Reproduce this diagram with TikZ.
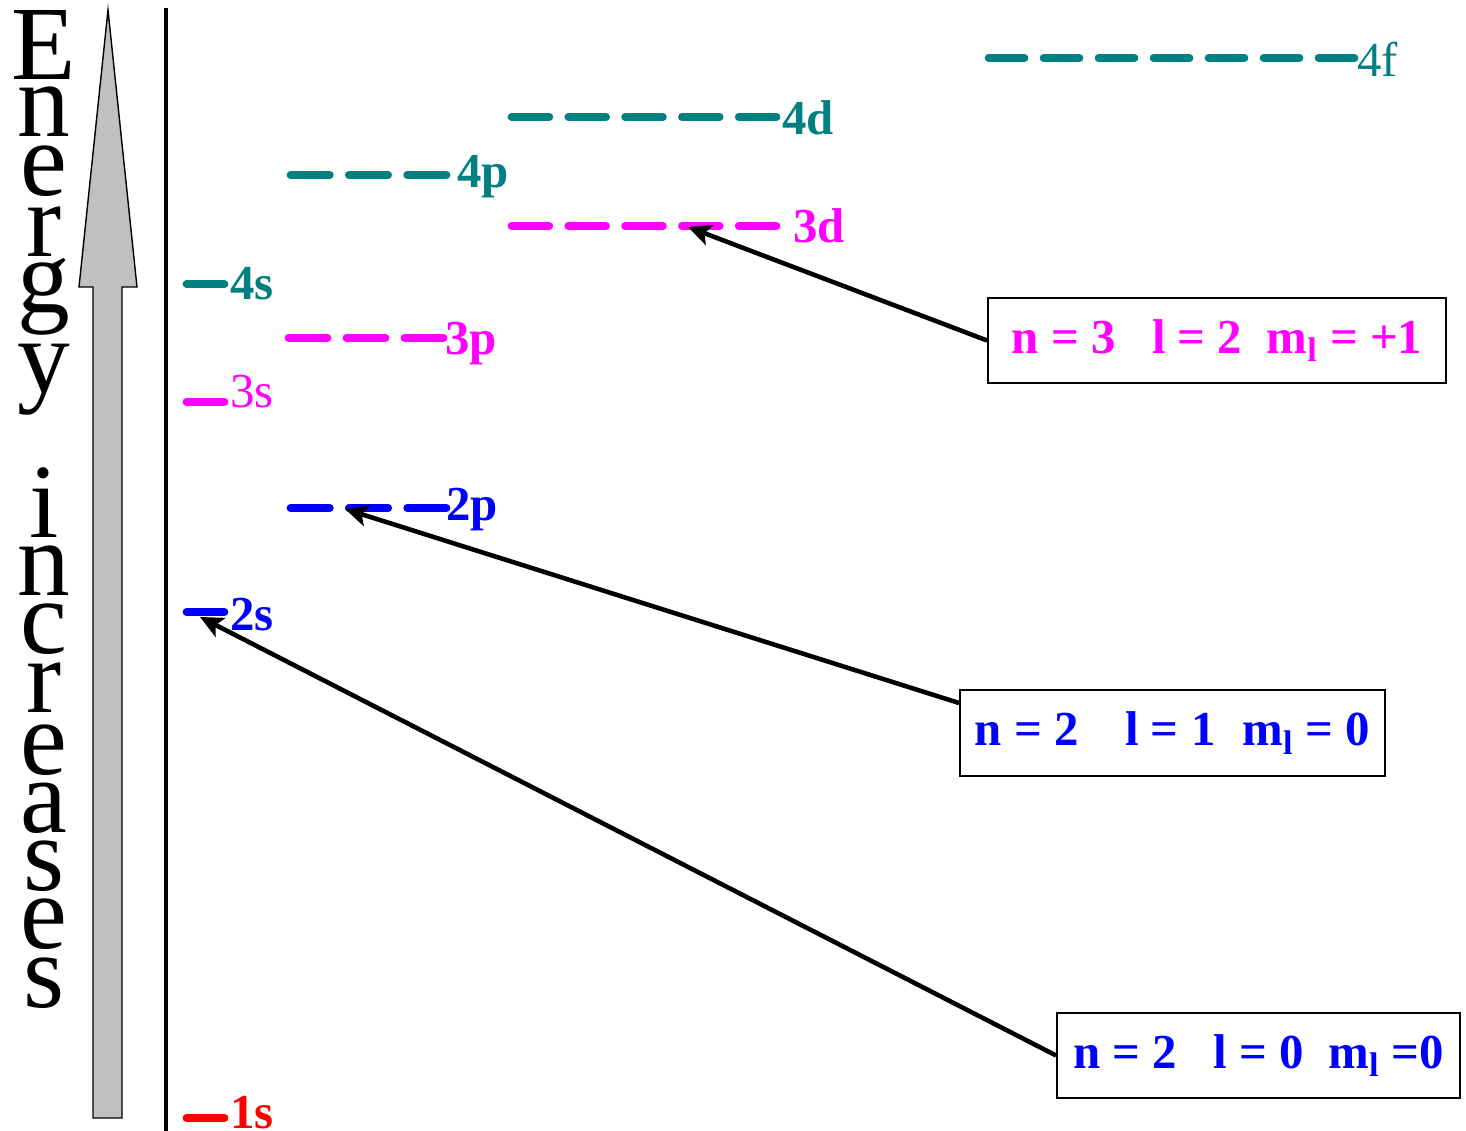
\documentclass[tikz,border=0pt]{standalone}
\usepackage{fontspec}
\setmainfont{Liberation Serif}
\usetikzlibrary{arrows.meta}
\definecolor{arrowgray}{RGB}{192,192,192}
\definecolor{orbteal}{RGB}{0,128,128}
\definecolor{orbmagenta}{RGB}{255,0,255}
\definecolor{orbblue}{RGB}{0,0,255}
\definecolor{orbred}{RGB}{255,0,0}
\tikzstyle{level} = [line width=4.4pt, line cap=round]
\tikzstyle{lbl} = [inner sep=0pt, anchor=base west, font=\fontsize{27.8pt}{30pt}\selectfont\bfseries]
\tikzstyle{qbox} = [rectangle, draw=black, line width=1.1pt, text centered, align=center, font=\fontsize{27.8pt}{30pt}\selectfont\bfseries]
\tikzset{qarrow/.style={line width=2.6pt, -{Stealth[length=13pt, width=12pt, inset=3pt]}}}
% one level: colour, x start, x end, y, number of orbitals
\newcommand{\drawLevel}[5]
{
    \pgfmathsetmacro{\seg}{(#3-#2-(#5-1)*12)/#5}
    \foreach \k in {1,...,#5}
        \draw [level, #1] ({#2+(\k-1)*(\seg+12)+3.5},#4) -- ++({\seg-7},0);
}

\begin{document}
\begin{tikzpicture}[x=0.02cm, y=-0.02cm]
\useasboundingbox (0,0) rectangle (1466,1131);

% energy axis
\draw [black, fill=arrowgray, line width=0.8pt] (93,1118) -- (93,287) -- (79,287) -- (108,10) -- (137,287) -- (122,287) -- (122,1118) -- cycle;
\draw [black, line width=2.3pt] (166,8) -- (166,1131);
\foreach \ch/\yy [count=\i] in {E/80, n/137, e/196, r/257, g/313, y/393, i/537, n/595, c/653, r/712, e/774, a/832, s/890, e/948, s/1007}
    \node (ltr\i) [inner sep=0pt, anchor=base, font=\fontsize{60pt}{60pt}\selectfont] at (44,\yy) {\ch};

% levels
\drawLevel{orbred}{183}{228}{1118}{1}
\drawLevel{orbblue}{183}{228}{612}{1}
\drawLevel{orbmagenta}{183}{228}{402}{1}
\drawLevel{orbteal}{183}{228}{284}{1}
\drawLevel{orbblue}{287}{450}{508}{3}
\drawLevel{orbmagenta}{285}{447}{338}{3}
\drawLevel{orbteal}{287}{450}{175}{3}
\drawLevel{orbmagenta}{508}{780}{226}{5}
\drawLevel{orbteal}{508}{780}{117}{5}
\drawLevel{orbteal}{985}{1358}{58}{7}

\node (l1s) [lbl, orbred] at (230,1128) {1s};
\node (l2s) [lbl, orbblue] at (230,630) {2s};
\node (l3s) [lbl, orbmagenta, font=\fontsize{27.8pt}{30pt}\selectfont] at (230,408) {3s};
\node (l4s) [lbl, orbteal] at (230,300) {4s};
\node (l2p) [lbl, orbblue] at (446,520) {2p};
\node (l3p) [lbl, orbmagenta] at (445,355) {3p};
\node (l4p) [lbl, orbteal] at (457,188) {4p};
\node (l3d) [lbl, orbmagenta] at (793,243) {3d};
\node (l4d) [lbl, orbteal] at (782,135) {4d};
\node (l4f) [lbl, orbteal, font=\fontsize{27.8pt}{30pt}\selectfont] at (1357,77) {4f};

% quantum numbers
\node (b3d) [qbox, text=orbmagenta, minimum width=9.16cm, minimum height=1.7cm] at (1217,340.5) {n = 3\hspace{0.75em}l = 2\hspace{0.5em}m\textsubscript{l} = +1};
\node (b2p) [qbox, text=orbblue, minimum width=8.5cm, minimum height=1.72cm] at (1172.5,733) {n = 2\hspace{0.95em}l = 1\hspace{0.55em}m\textsubscript{l} = 0};
\node (b2s) [qbox, text=orbblue, minimum width=8.06cm, minimum height=1.7cm] at (1258.5,1055.5) {n = 2\hspace{0.75em}l = 0\hspace{0.5em}m\textsubscript{l} =0};

\coordinate (p3d) at (688,227);
\coordinate (p2p) at (345,509);
\coordinate (p2s) at (200,617);

\draw [qarrow] (b3d.west) -- (p3d);
\draw [qarrow] (b2p.172) -- (p2p);
\draw [qarrow] (b2s.west) -- (p2s);

\end{tikzpicture}
\end{document}
